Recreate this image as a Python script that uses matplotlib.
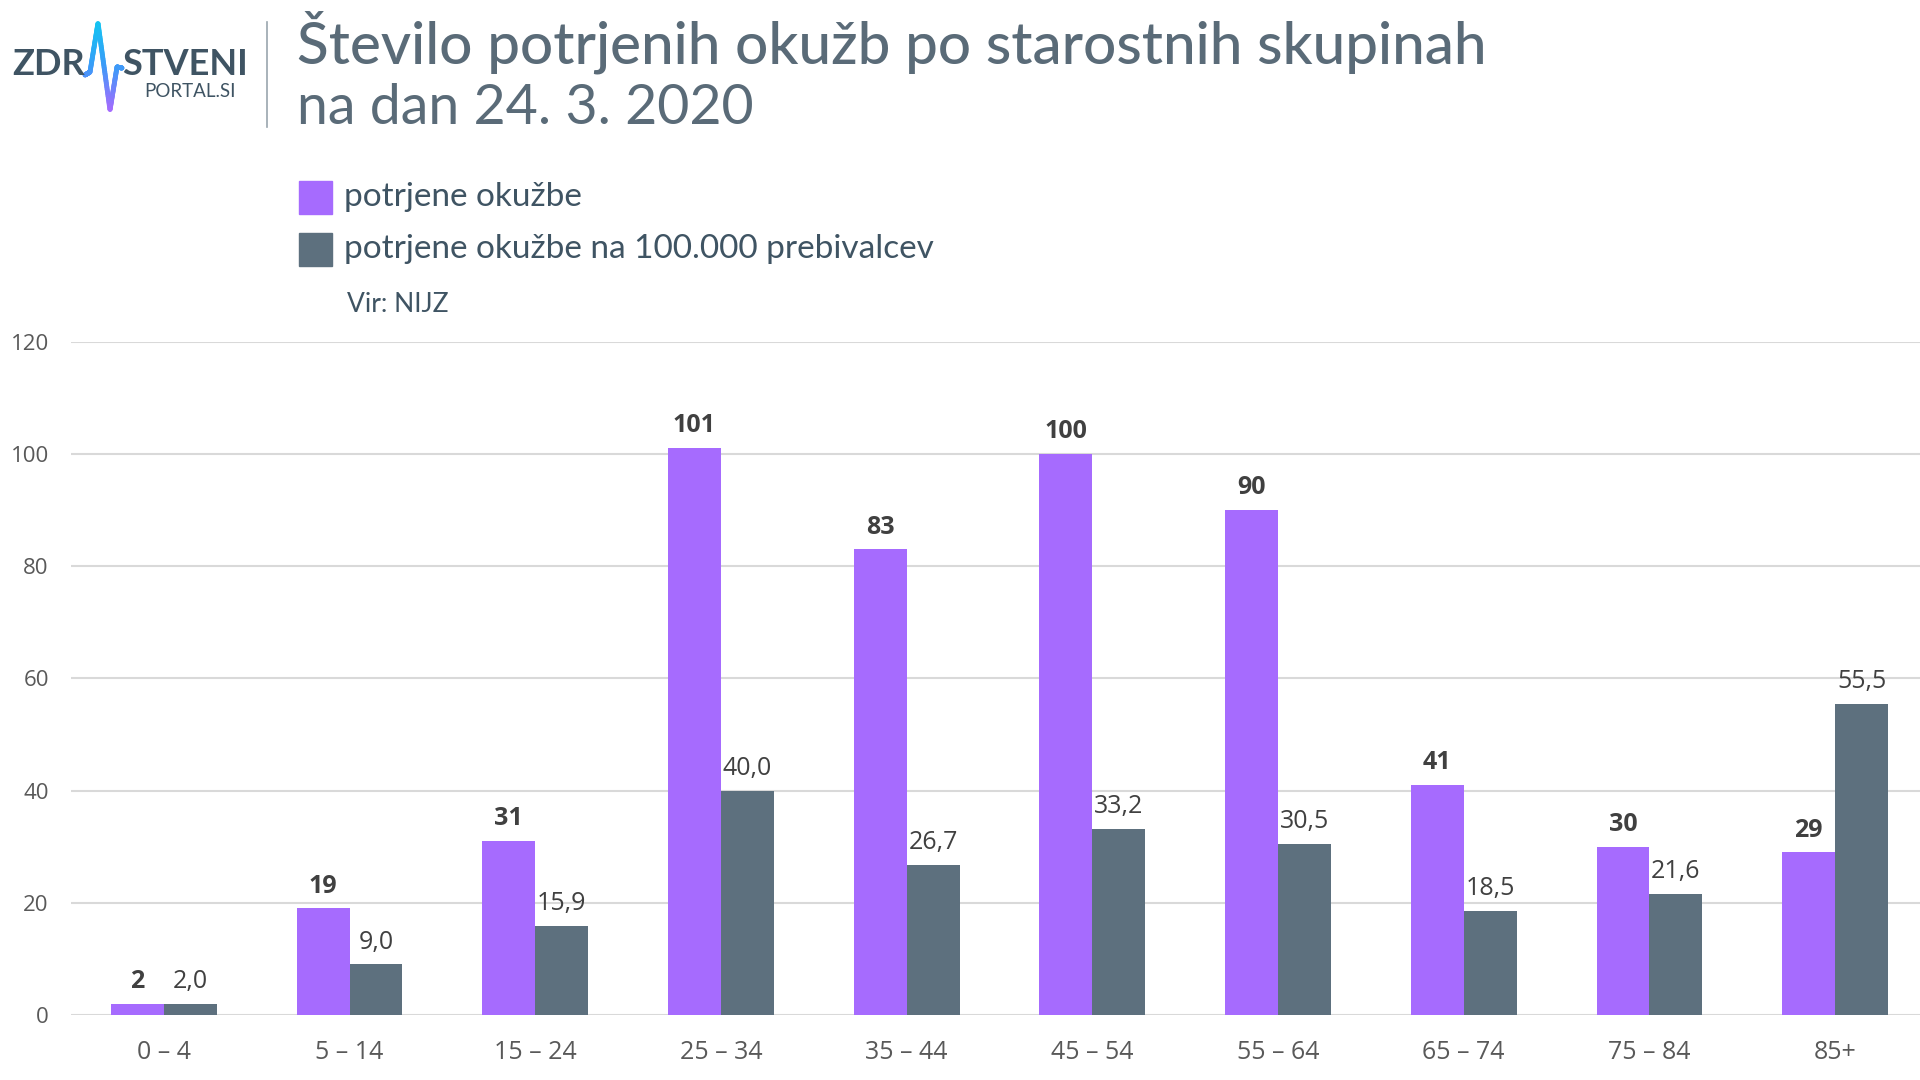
import numpy as np
import matplotlib
matplotlib.use('Agg')
import matplotlib.pyplot as plt
from matplotlib.collections import LineCollection

# podatki
skupine = ['0 – 4', '5 – 14', '15 – 24', '25 – 34', '35 – 44', '45 – 54', '55 – 64', '65 – 74', '75 – 84', '85+']
okuzbe = [2, 19, 31, 101, 83, 100, 90, 41, 30, 29]
na_100k = [2.0, 9.0, 15.9, 40.0, 26.7, 33.2, 30.5, 18.5, 21.6, 55.5]
y_ticks = [0, 20, 40, 60, 80, 100, 120]

vijolicna = '#A66BFE'
siva = '#5D707E'
naslov_barva = '#5A6B78'
W, H = 1920, 1080

def fx(x):
    return x / W

def fy(y):
    return 1 - y / H

fig = plt.figure(figsize=(19.2, 10.8), dpi=100)

ax = fig.add_axes([fx(71), fy(1015), fx(1928 - 71), (1015 - 341.6) / H])
x = np.arange(len(skupine))
w = 0.285
b1 = ax.bar(x - w / 2, okuzbe, w, color=vijolicna, zorder=3)
b2 = ax.bar(x + w / 2, na_100k, w, color=siva, zorder=3)

for r, v in zip(b1, okuzbe):
    ax.annotate(str(v), (r.get_x() + r.get_width() / 2, v), xytext=(0, 7),
                textcoords='offset points', ha='center', va='bottom',
                fontsize=18, fontweight='bold', color='#404040', family='Open Sans')
for r, v in zip(b2, na_100k):
    ax.annotate(f'{v:.1f}'.replace('.', ','), (r.get_x() + r.get_width() / 2, v), xytext=(0, 7),
                textcoords='offset points', ha='center', va='bottom',
                fontsize=18, color='#404040', family='Open Sans')

ax.set_xlim(-0.5, len(skupine) - 0.5)
ax.set_ylim(0, 120)
ax.set_yticks(y_ticks)
ax.set_yticklabels([str(t) for t in y_ticks], fontsize=16, color='#595959', family='Open Sans')
ax.set_xticks(x)
ax.set_xticklabels(skupine, fontsize=18, color='#595959', family='Open Sans')
ax.tick_params(axis='both', length=0)
ax.tick_params(axis='y', pad=16)
ax.tick_params(axis='x', pad=18)
ax.grid(axis='y', color='#D9D9D9', linewidth=1.5, zorder=0)
for s in ax.spines.values():
    s.set_visible(False)

# naslov
fig.text(fx(297), fy(42), 'Število potrjenih okužb po starostnih skupinah', fontsize=42,
         color=naslov_barva, family='Lato', fontweight='medium', va='center')
fig.text(fx(297), fy(108), 'na dan 24. 3. 2020', fontsize=40,
         color=naslov_barva, family='Lato', va='center')

# legenda
fig.patches.append(plt.Rectangle((fx(299), fy(214)), fx(33), 33 / H, color=vijolicna,
                                 transform=fig.transFigure, figure=fig))
fig.patches.append(plt.Rectangle((fx(299), fy(266)), fx(33), 33 / H, color=siva,
                                 transform=fig.transFigure, figure=fig))
fig.text(fx(344), fy(197), 'potrjene okužbe', fontsize=24, color='#3F5463', family='Lato', va='center')
fig.text(fx(344), fy(249), 'potrjene okužbe na 100.000 prebivalcev', fontsize=24, color='#3F5463',
         family='Lato', va='center')
fig.text(fx(347), fy(304), 'Vir: NIJZ', fontsize=19, color='#3F5463', family='Lato', va='center')

# logotip
logo = fig.add_axes([0, fy(140), fx(300), 140 / H])
logo.set_xlim(0, 300)
logo.set_ylim(140, 0)
logo.axis('off')
logo.text(12, 75, 'ZDR', fontsize=26, fontweight='bold', color='#3F5463', family='Lato', va='baseline')
logo.text(122, 75, 'STVENI', fontsize=26, fontweight='bold', color='#3F5463', family='Lato', va='baseline')
logo.text(144, 97, 'PORTAL.SI', fontsize=13.5, color='#3F5463', family='Lato', va='baseline')
px = np.array([85, 90, 98, 110, 117, 122])
py = np.array([75, 72, 23, 110, 67, 68])
tt = np.linspace(0, 1, 200)
seg_x = np.interp(tt * (len(px) - 1), np.arange(len(px)), px)
seg_y = np.interp(tt * (len(py) - 1), np.arange(len(py)), py)
pts = np.array([seg_x, seg_y]).T.reshape(-1, 1, 2)
segs = np.concatenate([pts[:-1], pts[1:]], axis=1)
cmap = matplotlib.colors.LinearSegmentedColormap.from_list('pulz', ['#13C3F2', '#3C9BF8', '#A66BFE'])
lc = LineCollection(segs, cmap=cmap, linewidth=3.5, capstyle='round')
lc.set_array((seg_y[:-1] - 23) / (110 - 23))
logo.add_collection(lc)
logo.plot([267, 267], [22, 127], color='#9AA5AE', linewidth=1.2)

fig.savefig('out.png', dpi=100, facecolor='white')
